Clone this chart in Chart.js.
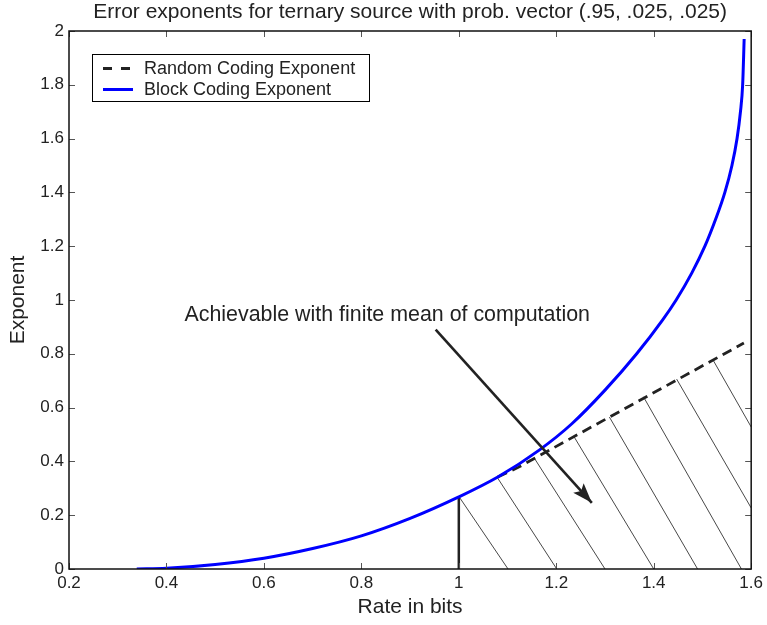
<!DOCTYPE html>
<html>
<head>
<meta charset="utf-8">
<script src="https://cdn.jsdelivr.net/npm/chart.js@4"></script>
<style>
html, body { margin: 0; padding: 0; background: #fff; }
#wrap { width: 767px; height: 625px; }
</style>
</head>
<body>
<div id="wrap"><canvas id="chart"></canvas></div>
<script>
// values
const blockRate = [0.339, 0.4, 0.5, 0.6, 0.7, 0.8, 0.9, 1.0, 1.08, 1.165, 1.232, 1.3, 1.365, 1.418, 1.446, 1.478, 1.505, 1.527, 1.546, 1.5605, 1.571, 1.578, 1.5825, 1.5856];
const blockExp = [0, 0.003, 0.017, 0.040, 0.076, 0.123, 0.188, 0.268, 0.342, 0.442, 0.54, 0.665, 0.8, 0.925, 1.0, 1.1, 1.2, 1.3, 1.4, 1.5, 1.6, 1.7, 1.8, 1.97];

const randomRate = [1.08, 1.12, 1.585];
const randomExp = [0.342, 0.376, 0.84];

// hatch strokes under the random coding exponent
const hatchTopRate = [1.0, 1.079, 1.156, 1.236, 1.309, 1.379, 1.447, 1.522];
const hatchTopExp = [0.27, 0.34, 0.409, 0.493, 0.565, 0.64, 0.706, 0.776];
const hatchEndRate = [1.101, 1.201, 1.30, 1.40, 1.49, 1.58, 1.6, 1.6];
const hatchEndExp = [0, 0, 0, 0, 0, 0, 0.227, 0.528];

const markerRate = [1, 1];
const markerExp = [0, 0.268];

const arrowRate = [0.9525, 1.273];
const arrowExp = [0.8895, 0.246];
const noteAt = [0.437, 0.923];
const noteText = 'Achievable with finite mean of computation';
const titleText = 'Error exponents for ternary source with prob. vector (.95, .025, .025)';

const xTickLabels = ['0.2', '0.4', '0.6', '0.8', '1', '1.2', '1.4', '1.6'];
const yTickLabels = ['0', '0.2', '0.4', '0.6', '0.8', '1', '1.2', '1.4', '1.6', '1.8', '2'];

const FONT = '"Liberation Sans", Arial, Helvetica, sans-serif';
const INK = '#222';

function pts(xs, ys) {
    return xs.map((x, i) => ({ x: x, y: ys[i] }));
}

const datasets = [];

// lower order = drawn later (on top)
datasets.push({
    label: 'Random Coding Exponent',
    data: pts(randomRate, randomExp),
    borderColor: INK,
    borderWidth: 2.8,
    borderDash: [10, 6],
    legendDash: [9, 9],
    inLegend: 0,
    order: 3
});
datasets.push({
    label: 'Block Coding Exponent',
    data: pts(blockRate, blockExp),
    borderColor: '#0000ff',
    borderWidth: 3,
    cubicInterpolationMode: 'monotone',
    inLegend: 1,
    order: 2
});
datasets.push({
    label: 'arrow',
    data: pts(arrowRate, arrowExp),
    borderColor: INK,
    borderWidth: 2.6,
    isArrow: true,
    order: 1
});
datasets.push({
    label: 'marker',
    data: pts(markerRate, markerExp),
    borderColor: INK,
    borderWidth: 2.5,
    order: 4
});
hatchTopRate.forEach((r, i) => {
    datasets.push({
        label: 'hatch',
        data: [{ x: r, y: hatchTopExp[i] }, { x: hatchEndRate[i], y: hatchEndExp[i] }],
        borderColor: '#333',
        borderWidth: 0.9,
        order: 5
    });
});

// Box and inward ticks on all four sides
const frame = {
    id: 'frame',
    afterDatasetsDraw(chart) {
        const { ctx, chartArea: a, scales } = chart;
        ctx.save();
        ctx.strokeStyle = '#555';
        ctx.lineWidth = 1;
        ctx.beginPath();
        scales.x.ticks.forEach(t => {
            const px = Math.round(scales.x.getPixelForValue(t.value)) + 0.5;
            ctx.moveTo(px, a.bottom); ctx.lineTo(px, a.bottom - 6);
            ctx.moveTo(px, a.top); ctx.lineTo(px, a.top + 6);
        });
        scales.y.ticks.forEach(t => {
            const py = Math.round(scales.y.getPixelForValue(t.value)) + 0.5;
            ctx.moveTo(a.left, py); ctx.lineTo(a.left + 6, py);
            ctx.moveTo(a.right, py); ctx.lineTo(a.right - 6, py);
        });
        ctx.stroke();
        ctx.strokeStyle = '#111';
        ctx.lineWidth = 1.5;
        ctx.strokeRect(a.left, a.top, a.right - a.left, a.bottom - a.top);
        ctx.restore();
    }
};

// Title over the axes, arrowhead and annotation text
const annotate = {
    id: 'annotate',
    afterDatasetsDraw(chart) {
        const { ctx, scales, chartArea } = chart;
        chart.data.datasets.forEach((d, i) => {
            if (!d.isArrow) return;
            const els = chart.getDatasetMeta(i).data;
            const p0 = els[els.length - 2], p1 = els[els.length - 1];
            const ang = Math.atan2(p1.y - p0.y, p1.x - p0.x);
            const len = 20, half = 7;
            ctx.save();
            ctx.translate(p1.x, p1.y);
            ctx.rotate(ang);
            ctx.fillStyle = INK;
            ctx.beginPath();
            ctx.moveTo(0, 0);
            ctx.lineTo(-len, -half);
            ctx.lineTo(-len * 0.8, 0);
            ctx.lineTo(-len, half);
            ctx.closePath();
            ctx.fill();
            ctx.restore();
        });
        ctx.save();
        ctx.fillStyle = INK;
        ctx.font = '21.4px ' + FONT;
        ctx.textBaseline = 'alphabetic';
        ctx.fillText(noteText, scales.x.getPixelForValue(noteAt[0]), scales.y.getPixelForValue(noteAt[1]));
        ctx.font = '21px ' + FONT;
        ctx.textAlign = 'center';
        ctx.textBaseline = 'middle';
        ctx.fillText(titleText, (chartArea.left + chartArea.right) / 2, 12);
        ctx.restore();
    }
};

// Boxed legend in the upper left corner of the axes
const legendBox = {
    id: 'legendBox',
    afterDraw(chart) {
        const { ctx, chartArea } = chart;
        const items = chart.data.datasets.filter(d => d.inLegend !== undefined)
            .sort((a, b) => a.inLegend - b.inLegend);
        const x = chartArea.left + 23, y = chartArea.top + 23, w = 277, h = 47;
        ctx.save();
        ctx.fillStyle = '#fff';
        ctx.fillRect(x, y, w, h);
        ctx.strokeStyle = '#000';
        ctx.lineWidth = 1;
        ctx.strokeRect(x + 0.5, y + 0.5, w, h);
        ctx.font = '18px ' + FONT;
        ctx.textBaseline = 'middle';
        items.forEach((d, i) => {
            const cy = y + 14.5 + i * 21;
            ctx.strokeStyle = d.borderColor;
            ctx.lineWidth = d.borderWidth;
            ctx.setLineDash(d.legendDash || []);
            ctx.beginPath();
            ctx.moveTo(x + 11, cy);
            ctx.lineTo(x + 41, cy);
            ctx.stroke();
            ctx.setLineDash([]);
            ctx.fillStyle = INK;
            ctx.fillText(d.label, x + 52, cy + 1);
        });
        ctx.restore();
    }
};

const ctx = document.getElementById('chart').getContext('2d');
const chart = new Chart(ctx, {
    type: 'scatter',
    data: { datasets: datasets },
    options: {
        responsive: true,
        maintainAspectRatio: false,
        animation: false,
        showLine: true,
        elements: {
            point: { radius: 0, hoverRadius: 0 },
            line: { tension: 0, fill: false }
        },
        layout: { padding: { left: 0, right: 14, top: 31, bottom: 0 } },
        plugins: {
            legend: { display: false },
            tooltip: { enabled: false },
            title: { display: false }
        },
        scales: {
            x: {
                type: 'linear',
                min: 0.2,
                max: 1.6,
                grid: { display: false, drawTicks: false },
                border: { display: false },
                ticks: {
                    stepSize: 0.2,
                    padding: 4,
                    color: INK,
                    font: { family: FONT, size: 17 },
                    maxRotation: 0,
                    callback: (v, i) => xTickLabels[i]
                },
                title: {
                    display: true,
                    text: 'Rate in bits',
                    color: INK,
                    font: { family: FONT, size: 21 },
                    padding: { top: 0, bottom: 5 }
                },
                afterFit: s => { s.height = 56; }
            },
            y: {
                type: 'linear',
                min: 0,
                max: 2,
                grid: { display: false, drawTicks: false },
                border: { display: false },
                ticks: {
                    stepSize: 0.2,
                    padding: 5,
                    color: INK,
                    font: { family: FONT, size: 17 },
                    callback: (v, i) => yTickLabels[i]
                },
                title: {
                    display: true,
                    text: 'Exponent',
                    color: INK,
                    font: { family: FONT, size: 21 },
                    padding: { top: 6, bottom: 0 }
                },
                afterFit: s => { s.width = 69; }
            }
        }
    },
    plugins: [frame, annotate, legendBox]
});
</script>
</body>
</html>
